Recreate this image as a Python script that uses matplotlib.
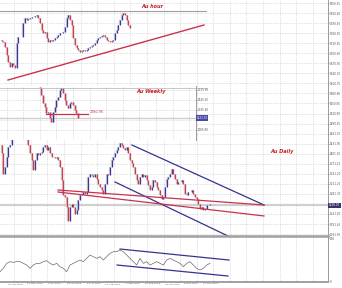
import numpy as np
import matplotlib
matplotlib.use("Agg")
import matplotlib.pyplot as plt
from matplotlib.ticker import FixedLocator, NullLocator

# ---------------- data ----------------
daily_close = [1427, 1402, 1342, 1362, 1392, 1422, 1427,
               1450, 1465, 1475, 1480, 1470, 1478, 1485, 1472, 1460, 1450,
               1427, 1402, 1382, 1352, 1382, 1402, 1397, 1402, 1407, 1422,
               1427, 1412, 1422, 1402, 1392, 1392, 1387, 1392, 1382, 1362,
               1322, 1277, 1272, 1242, 1202, 1242, 1252, 1242, 1222, 1232,
               1262, 1277, 1282, 1287, 1282, 1287, 1332, 1342, 1337, 1332,
               1342, 1327, 1312, 1302, 1292, 1282, 1312, 1342, 1337, 1362,
               1382, 1392, 1402, 1412, 1422, 1432, 1427, 1417, 1412, 1422,
               1402, 1382, 1372, 1362, 1342, 1322, 1312, 1332, 1342, 1332,
               1337, 1322, 1307, 1292, 1302, 1322, 1317, 1302, 1292, 1277,
               1267, 1272, 1302, 1327, 1332, 1342,
               1357, 1342, 1327, 1312, 1317, 1317, 1322, 1312, 1282, 1277,
               1287, 1287, 1292, 1282, 1272, 1267, 1252, 1237, 1242, 1232,
               1237, 1247, 1247, 1252]

hour_close = [1256.0, 1255.8, 1255.5, 1254.0, 1251.5, 1249.5, 1248.0, 1249.0,
              1248.5, 1247.5, 1255.0, 1257.0, 1256.8, 1257.0, 1261.0, 1262.5,
              1262.0, 1262.2, 1262.5, 1262.8, 1263.0, 1263.2, 1263.5, 1262.5,
              1261.0, 1259.0, 1258.0, 1258.5, 1256.5, 1255.5, 1256.0, 1255.8,
              1256.0, 1256.5, 1257.0, 1257.5, 1258.0, 1258.2, 1258.5, 1260.0,
              1262.5, 1263.5, 1262.0, 1260.5, 1256.5, 1254.5, 1253.5, 1253.0,
              1252.5, 1252.8, 1253.0, 1252.8, 1253.0, 1253.5, 1254.0, 1254.2,
              1254.5, 1255.2, 1256.0, 1256.5, 1257.0, 1257.2, 1257.5, 1256.8,
              1256.0, 1255.8, 1255.5, 1255.8, 1256.0, 1258.0, 1259.0, 1260.5,
              1262.0, 1263.5, 1264.0, 1263.5, 1262.0, 1260.5, 1259.5, 1259.5,
              1259.5]

weekly_close = [1785, 1755, 1635, 1485, 1425, 1305, 1335, 1215, 1155, 1335,
                1425, 1545, 1605, 1725, 1755, 1665, 1545, 1455, 1395, 1485,
                1515, 1455, 1365, 1305, 1215]
weekly_start = 22.8  # first weekly bar index on the inset axis

osc_values = [21.7, 29.5, 41.1, 45.0, 43.4, 45.0, 45.0, 41.1, 37.2, 29.5,
              37.2, 41.1, 41.1, 45.0, 47.3, 41.1, 37.2, 41.1, 33.3, 29.5,
              21.7, 37.2, 41.1, 45.0, 48.8, 45.0, 52.7, 60.5, 56.6, 52.7,
              56.6, 48.8, 56.6, 64.3, 68.2, 68.2, 72.1, 68.2, 60.5, 52.7,
              45.0, 37.2, 52.7, 41.1, 45.0, 37.2, 41.1, 45.0, 41.1, 37.2,
              48.8, 52.7, 48.8, 45.0, 41.1, 33.3, 41.1, 45.0, 37.2, 29.5,
              25.6, 29.5, 37.2, 41.1]

date_labels = ["26 Apr 2013", "17 May 2013", "7 Jun 2013", "28 Jun 2013",
               "22 Jul 2013", "14 Aug 2013", "6 Sep 2013", "28 Sep 2013",
               "18 Oct 2013", "8 Nov 2013", "27 Nov 2013"]
date_pos = [9.0, 20.8, 32.5, 44.3, 56.0, 67.8, 79.6, 91.3, 103.1, 114.8, 126.6]

price_ticks = [1850.35, 1820.40, 1790.45, 1760.50, 1730.55, 1700.60, 1670.65,
               1640.70, 1610.75, 1580.80, 1550.85, 1520.90, 1490.95, 1461.00,
               1431.05, 1401.10, 1371.15, 1341.20, 1311.25, 1281.30, 1221.40,
               1191.45, 1161.50]
weekly_ticks = [1725.80, 1545.50, 1365.40, 1005.80]
osc_ticks = [0, 100]

# trend lines (bar index, price)
d_chan_up_x, d_chan_up_y = [79.2, 158.4], [1427.0, 1248.2]
d_chan_lo_x, d_chan_lo_y = [69.0, 138.0], [1316.8, 1152.9]
d_red1_x, d_red1_y = [34.8, 158.4], [1292.9, 1248.2]
d_red2_x, d_red2_y = [34.8, 158.4], [1287.0, 1215.5]
h_trend_x, h_trend_y = [4.8, 122.4], [1244.0, 1260.5]
h_resist = 1264.7
w_support_x, w_support_y = [4.8 + 22.8, 30.0 + 22.8], [1293, 1293]
o_up_x, o_up_y = [72.0, 137.4], [74.4, 48.8]
o_lo_x, o_lo_y = [70.2, 136.8], [37.2, 11.6]

# ---------------- style ----------------
UP = "#3a36a6"
DOWN = "#d43a4c"
NAVY = "#35348f"
RED = "#c9324c"
GRID = "#c4c4c4"
FS = 1.95

W, H = 342, 288
fig = plt.figure(figsize=(W / 100, H / 100), dpi=100)
fig.patch.set_facecolor("white")


def rect(x0, y0, x1, y1):
    return [x0 / W, 1 - y1 / H, (x1 - x0) / W, (y1 - y0) / H]


def candles(a, xs, closes, lw):
    c = np.asarray(closes, float)
    o = np.r_[c[0], c[:-1]]
    lo, hi = np.minimum(o, c), np.maximum(o, c)
    cols = np.where(c >= o, UP, DOWN)
    a.vlines(xs, lo, hi, colors="#c8c8c8", lw=lw * 2.0, zorder=2)
    a.vlines(xs, lo, hi, colors=cols, lw=lw, zorder=3)


def dotted_grid(a, yt, xstep_start, xmax):
    for y in yt:
        a.axhline(y, color=GRID, lw=0.5, ls=(0, (1, 1.5)), zorder=0)
    for x in np.arange(xstep_start, xmax, 9.95):
        a.axvline(x, color=GRID, lw=0.5, ls=(0, (1, 1.5)), zorder=0)


# ---------------- main daily ----------------
ax = fig.add_axes(rect(0, 0, 328, 236))
ax.set_xlim(0, 196.8)
ax.set_ylim(1155.8, 1859.3)
dotted_grid(ax, price_ticks, 8.6, 197)
xd = np.arange(len(daily_close))
candles(ax, xd, daily_close, 0.85)
ax.axhline(daily_close[-1] - 4, color="#cfcfcf", lw=1.6, zorder=1)
ax.plot(d_chan_up_x, d_chan_up_y, color=NAVY, lw=0.9, zorder=4)
ax.plot(d_chan_lo_x, d_chan_lo_y, color=NAVY, lw=0.9, zorder=4)
ax.plot(d_red1_x, d_red1_y, color=RED, lw=0.9, zorder=4)
ax.plot(d_red2_x, d_red2_y, color=RED, lw=0.9, zorder=4)
for s in ["left", "top", "bottom"]:
    ax.spines[s].set_visible(False)
ax.spines["right"].set_color("#8a8a8a")
ax.spines["right"].set_linewidth(0.6)
ax.yaxis.tick_right()
ax.yaxis.set_major_locator(FixedLocator(price_ticks))
ax.set_yticklabels([f"{v:.2f}" for v in price_ticks])
ax.tick_params(axis="y", labelsize=FS, length=1.0, width=0.4, pad=0.4,
               colors="#555555")
ax.xaxis.set_major_locator(NullLocator())
ax.text(1.003, (daily_close[-1] - 4 - 1155.8) / (1859.3 - 1155.8),
        f"{daily_close[-1] - 4:.2f}", transform=ax.transAxes, fontsize=FS,
        color="white", va="center", ha="left",
        bbox=dict(boxstyle="square,pad=0.2", fc="#34346a", ec="none"))

# ---------------- oscillator ----------------
axo = fig.add_axes(rect(0, 236, 328, 282))
axo.set_xlim(0, 196.8)
axo.set_ylim(-2.3, 104.7)
for x in np.arange(8.6, 197, 9.95):
    axo.axvline(x, color=GRID, lw=0.5, ls=(0, (1, 1.5)), zorder=0)
xo = np.arange(len(osc_values)) * 2
axo.plot(xo, osc_values, color="#6a6a6a", lw=0.5, zorder=3)
axo.plot(o_up_x, o_up_y, color=NAVY, lw=0.9, zorder=4)
axo.plot(o_lo_x, o_lo_y, color=NAVY, lw=0.9, zorder=4)
axo.spines["left"].set_visible(False)
axo.spines["top"].set_color("#a0a0a0")
axo.spines["top"].set_linewidth(1.8)
axo.spines["bottom"].set_color("#a0a0a0")
axo.spines["bottom"].set_linewidth(1.4)
axo.spines["right"].set_color("#8a8a8a")
axo.spines["right"].set_linewidth(0.6)
axo.yaxis.tick_right()
axo.yaxis.set_major_locator(FixedLocator(osc_ticks))
axo.set_yticklabels([str(v) for v in osc_ticks])
axo.tick_params(axis="y", labelsize=FS, length=1.0, width=0.4, pad=0.4,
                colors="#555555")
axo.xaxis.set_major_locator(FixedLocator(date_pos))
axo.set_xticklabels(date_labels)
axo.tick_params(axis="x", labelsize=1.7, length=0, pad=1.0, colors="#555555")

# ---------------- weekly inset ----------------
axw = fig.add_axes(rect(0, 86, 196, 140))
axw.set_facecolor("white")
axw.set_xlim(0, 117.6)
axw.set_ylim(825, 1797)
dotted_grid(axw, weekly_ticks + [1185.0], 4.0, 118)
xw = np.arange(len(weekly_close)) + weekly_start
axw.axhline(weekly_close[-1] + 6, color="#cfcfcf", lw=1.0, zorder=1)
candles(axw, xw, weekly_close, 0.9)
axw.plot(w_support_x, w_support_y, color=RED, lw=0.9, zorder=4)
axw.text(w_support_x[1] + 1.2, 1335, "1280-95", fontsize=2.4, color=RED,
         va="center", ha="left")
for s in ["left", "top", "bottom"]:
    axw.spines[s].set_visible(False)
axw.spines["right"].set_color("#8a8a8a")
axw.spines["right"].set_linewidth(0.6)
axw.yaxis.tick_right()
axw.yaxis.set_major_locator(FixedLocator(weekly_ticks))
axw.set_yticklabels([f"{v:.2f}" for v in weekly_ticks])
axw.tick_params(axis="y", labelsize=FS, length=1.0, width=0.4, pad=0.4,
                colors="#555555")
axw.xaxis.set_major_locator(NullLocator())
axw.text(1.003, (weekly_close[-1] + 6 - 825) / (1797 - 825),
         f"{weekly_close[-1] + 6:.2f}", transform=axw.transAxes, fontsize=FS,
         color="white", va="center", ha="left",
         bbox=dict(boxstyle="square,pad=0.2", fc="#4a4aa0", ec="none"))

# ---------------- hour inset ----------------
axh = fig.add_axes(rect(0, 0, 207, 88))
axh.patch.set_alpha(0)
axh.set_xlim(0, 124.2)
axh.set_ylim(1241.6, 1268)
xh = np.arange(len(hour_close))
candles(axh, xh, hour_close, 0.85)
axh.axhline(h_resist, color="#a0a0a0", lw=0.8, zorder=1)
axh.plot(h_trend_x, h_trend_y, color=RED, lw=1.0, zorder=4)
for s in ["left", "top", "right"]:
    axh.spines[s].set_visible(False)
axh.spines["bottom"].set_color("#b0b0b0")
axh.spines["bottom"].set_linewidth(0.5)
axh.xaxis.set_major_locator(NullLocator())
axh.yaxis.set_major_locator(NullLocator())

# ---------------- titles ----------------
tkw = dict(fontsize=3.6, color="#c8202c", style="italic", weight="bold",
           ha="center", va="center")
fig.text(152 / W, 1 - 6 / H, "Au hour", **tkw)
fig.text(151 / W, 1 - 91 / H, "Au Weekly", **tkw)
fig.text(282 / W, 1 - 152 / H, "Au Daily", **tkw)

fig.savefig("out.png", dpi=100, facecolor="white")
